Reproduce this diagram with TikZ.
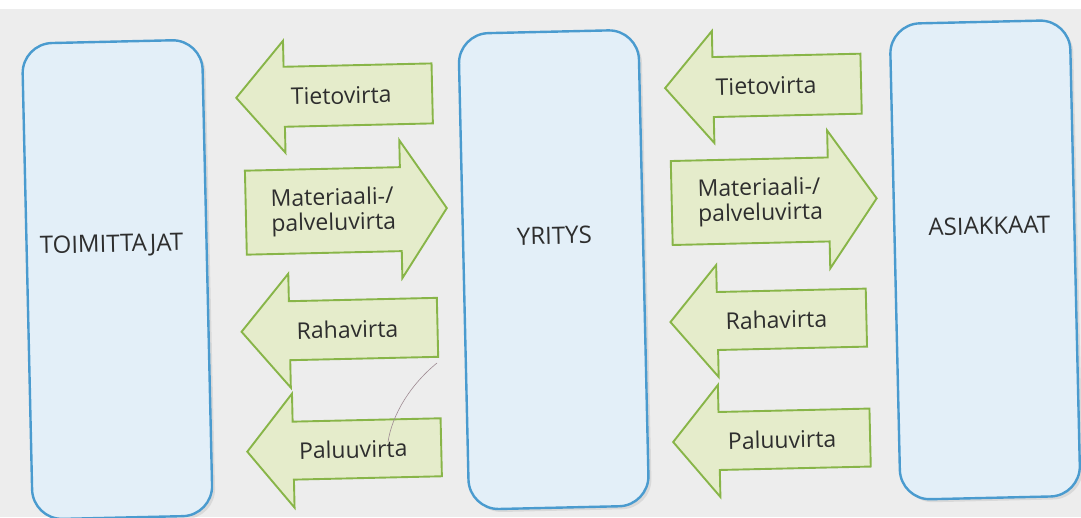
\documentclass[tikz,border=0pt]{standalone}
\usepackage{fontspec}
\setmainfont{Open Sans}
\usetikzlibrary{shadows}
\definecolor{pagegray}{HTML}{EDEDED}
\definecolor{boxfill}{HTML}{E3EFF8}
\definecolor{boxline}{HTML}{4A9BCF}
\definecolor{arrfill}{HTML}{E5ECCB}
\definecolor{arrline}{HTML}{88B548}
\definecolor{txt}{HTML}{2E2E2E}
\definecolor{penmark}{HTML}{9E8A92}
\newcommand{\LArrow}[6]{% tip x, head back x, end x, centre y, head half, shaft half
  \draw[flowarrow] (#1,#4) -- (#2,{#4-#5}) -- (#2,{#4-#6}) -- (#3,{#4-#6})
    -- (#3,{#4+#6}) -- (#2,{#4+#6}) -- (#2,{#4+#5}) -- cycle;}
\newcommand{\RArrow}[6]{% start x, head back x, tip x, centre y, head half, shaft half
  \draw[flowarrow] (#3,#4) -- (#2,{#4-#5}) -- (#2,{#4-#6}) -- (#1,{#4-#6})
    -- (#1,{#4+#6}) -- (#2,{#4+#6}) -- (#2,{#4+#5}) -- cycle;}
\begin{document}
\begin{tikzpicture}[x=1pt,y=-1pt,
  party/.style={draw=boxline, line width=2.4pt, fill=boxfill,
    rounded corners=30pt, minimum width=180pt, minimum height=476pt,
    inner sep=0pt, drop shadow={shadow xshift=3pt, shadow yshift=-3pt, opacity=0.18}},
  partylabel/.style={text=txt, font=\fontsize{24}{28}\selectfont, inner sep=0pt},
  flowarrow/.style={draw=arrline, line width=1.9pt, fill=arrfill, line join=miter},
  flowlabel/.style={text=txt, font=\fontsize{23}{25}\selectfont, inner sep=0pt, align=left}]
\useasboundingbox (0,0) rectangle (1081,517);
\fill[pagegray] (0,0) rectangle (1081,517);
\fill[white] (0,0) rectangle (1081,9);
\begin{scope}[rotate around={1.3:(540,260)}, transform shape]
  % boxes
  \node[party] (toim) at (117,270) {};
  \node[party] (yri) at (553.5,270) {};
  \node[party] (asi) at (985,270) {};
  \node[partylabel] (toiml) at (112,236) {TOIMITTAJAT};
  \node[partylabel] (yril) at (555,236) {YRITYS};
  \node[partylabel] (asil) at (990,236) {ASIAKKAAT};
  % left arrows
  \LArrow{240}{288}{436}{91}{56}{30}
  \RArrow{247}{402}{448}{206}{69}{42}
  \LArrow{240}{288}{436}{325}{57}{29.5}
  \LArrow{243}{289}{437}{445}{57}{29}
  % right arrows
  \LArrow{669}{717}{865}{91}{56}{30}
  \RArrow{673}{830}{878}{206}{69}{42}
  \LArrow{669}{716}{865}{325}{56}{29}
  \LArrow{669}{715}{866}{445}{56}{29}
  % labels
  \node[flowlabel] (lt) at (345,91) {Tietovirta};
  \node[flowlabel, anchor=west] (lm) at (272,207) {Materiaali-/\\palveluvirta};
  \node[flowlabel] (lr) at (346,325) {Rahavirta};
  \node[flowlabel] (lp) at (349,445) {Paluuvirta};
  \node[flowlabel] (rt) at (770,91) {Tietovirta};
  \node[flowlabel, anchor=west] (rm) at (699,207) {Materiaali-/\\palveluvirta};
  \node[flowlabel] (rr) at (775,325) {Rahavirta};
  \node[flowlabel] (rp) at (778,445) {Paluuvirta};
\end{scope}
\draw[penmark, line width=0.6pt] (437,363) .. controls (410,385) and (392,415) .. (388,442);
\end{tikzpicture}
\end{document}
